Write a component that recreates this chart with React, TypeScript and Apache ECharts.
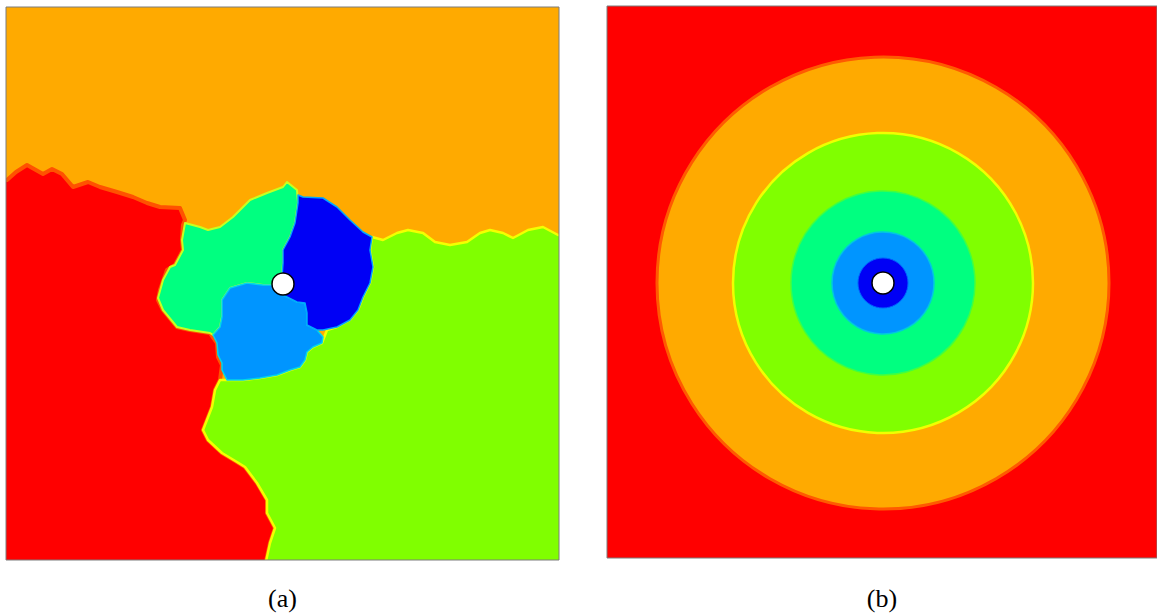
import React, { useEffect, useRef } from "react";
import * as echarts from "echarts";

// ---------- Panel (a): region boundaries (image units) ----------
const PANEL_A_X = [6, 559];
const PANEL_A_Y = [7, 560];
const PANEL_B_X = [607, 1157];
const PANEL_B_Y = [6, 558];

const regionOrange = [[6, 7], [559, 7], [559, 560], [6, 560]];
const regionRed = [
  [0, 180], [7, 180], [16, 172], [27, 165], [43, 174], [52, 169], [62, 174], [73, 187], [88, 182],
  [100, 187], [117, 192], [133, 197], [147, 203], [160, 207], [180, 208], [185, 220],
  [183, 225], [182, 240], [183, 250], [175, 265], [167, 270], [160, 290], [158, 300],
  [163, 310], [177, 327], [190, 330], [210, 333], [217, 343], [218, 357], [222, 365],
  [220, 380], [215, 390], [212, 407], [203, 430], [208, 440], [222, 453], [237, 462],
  [245, 467], [257, 483], [267, 500], [267, 513], [275, 528], [270, 543], [265, 566], [0, 566],
];
const regionLime = [
  [372, 237], [383, 240], [397, 233], [408, 230], [423, 233], [435, 242], [450, 245],
  [467, 242], [480, 233], [490, 230], [503, 233], [513, 238], [528, 230], [543, 227],
  [558, 235], [566, 235], [566, 566], [265, 566], [270, 543], [275, 528], [267, 513],
  [267, 500], [257, 483], [245, 467], [237, 462], [222, 453], [208, 440], [203, 430],
  [212, 407], [215, 390], [220, 380], [227, 380], [243, 380], [260, 378], [277, 375],
  [290, 370], [300, 367], [305, 360], [307, 352], [313, 347], [322, 343], [327, 330],
  [337, 327], [350, 320], [358, 310], [363, 297], [370, 283], [373, 267], [370, 250],
];
const regionSpring = [
  [158, 298], [163, 280], [170, 267], [175, 265], [183, 250], [182, 240], [185, 223],
  [200, 227], [208, 230], [220, 227], [233, 217], [250, 200], [267, 193], [283, 187],
  [287, 182], [297, 190], [298, 203], [295, 223], [290, 237], [283, 250], [283, 263],
  [282, 277], [273, 285], [263, 285], [247, 283], [230, 288], [222, 300], [222, 317],
  [220, 327], [213, 335], [210, 333], [190, 330], [177, 327], [163, 310],
];
const regionAzure = [
  [222, 300], [230, 288], [247, 283], [263, 285], [273, 285], [283, 295], [297, 302],
  [305, 303], [307, 313], [307, 325], [317, 330], [323, 337], [322, 343], [313, 347],
  [307, 352], [305, 360], [300, 367], [290, 370], [277, 375], [260, 378], [243, 380],
  [227, 380], [222, 370], [222, 363], [218, 355], [217, 343], [213, 335], [220, 327], [222, 317],
];
const regionBlue = [
  [298, 195], [303, 197], [323, 198], [337, 207], [350, 220], [363, 232], [372, 237],
  [370, 250], [373, 267], [370, 283], [363, 297], [358, 310], [350, 320], [337, 327],
  [323, 330], [317, 330], [307, 325], [307, 313], [305, 303], [297, 302], [283, 295],
  [282, 277], [283, 263], [283, 250], [290, 237], [295, 223], [298, 203],
];
const REGIONS_A = [regionOrange, regionRed, regionLime, regionSpring, regionAzure, regionBlue];
const SOURCE_A = [[283, 284]];

// ---------- Panel (b): concentric rings ----------
const CENTER_B = [883, 283];
const RING_RADII = [400, 226, 150, 92, 51, 25];
const SOURCE_B = [[883, 283]];

const LABELS = ["(a)", "(b)"];

// ---------- styles ----------
const REGION_STYLE_A = [
  { fill: "#FFAA00", stroke: "none", lw: 0 },
  { fill: "#FF0000", stroke: "#FF5200", lw: 4 },
  { fill: "#80FF00", stroke: "#F4FF00", lw: 2.5 },
  { fill: "#00FF80", stroke: "#C8FF20", lw: 2 },
  { fill: "#0095FF", stroke: "#00D8E8", lw: 1.5 },
  { fill: "#0000F5", stroke: "#00A8FF", lw: 1.5 },
];
const RING_STYLE_B = [
  { fill: "#FF0000", stroke: "none", lw: 0 },
  { fill: "#FFAA00", stroke: "#FF5A00", lw: 3 },
  { fill: "#80FF00", stroke: "#F0FF00", lw: 2.5 },
  { fill: "#00FF80", stroke: "#40FF40", lw: 1.5 },
  { fill: "#0095FF", stroke: "#00C8E0", lw: 1.5 },
  { fill: "#0000F5", stroke: "#0060FF", lw: 1 },
];

export default function App() {
  const ref = useRef<HTMLDivElement>(null);
  useEffect(() => {
    if (!ref.current) return;
    const chart = echarts.init(ref.current, null, { renderer: "svg" });
    const hiddenAxis = (min: number, max: number, idx: number, inverse = false) => ({
      type: "value",
      min,
      max,
      gridIndex: idx,
      inverse,
      show: false,
    });
    chart.setOption({
      animation: false,
      backgroundColor: "#ffffff",
      grid: [
        {
          left: PANEL_A_X[0], top: PANEL_A_Y[0],
          width: PANEL_A_X[1] - PANEL_A_X[0], height: PANEL_A_Y[1] - PANEL_A_Y[0],
          show: false,
        },
        {
          left: PANEL_B_X[0], top: PANEL_B_Y[0],
          width: PANEL_B_X[1] - PANEL_B_X[0], height: PANEL_B_Y[1] - PANEL_B_Y[0],
          show: false,
        },
      ],
      xAxis: [hiddenAxis(PANEL_A_X[0], PANEL_A_X[1], 0), hiddenAxis(PANEL_B_X[0], PANEL_B_X[1], 1)],
      yAxis: [
        hiddenAxis(PANEL_A_Y[0], PANEL_A_Y[1], 0, true),
        hiddenAxis(PANEL_B_Y[0], PANEL_B_Y[1], 1, true),
      ],
      series: [
        {
          type: "custom",
          xAxisIndex: 0,
          yAxisIndex: 0,
          clip: true,
          silent: true,
          data: REGIONS_A.map((r, i) => [r[0][0], r[0][1], i]),
          renderItem: (params: any, api: any) => {
            const i = params.dataIndex;
            const st = REGION_STYLE_A[i];
            const pts = REGIONS_A[i].map((p) => api.coord(p));
            return {
              type: "polygon",
              shape: { points: pts },
              style: { fill: st.fill, stroke: st.stroke, lineWidth: st.lw, lineJoin: "round" },
            };
          },
        },
        {
          type: "custom",
          xAxisIndex: 1,
          yAxisIndex: 1,
          clip: true,
          silent: true,
          data: RING_RADII.map((r, i) => [CENTER_B[0], CENTER_B[1], r, i]),
          renderItem: (params: any, api: any) => {
            const i = params.dataIndex;
            const st = RING_STYLE_B[i];
            const c = api.coord([api.value(0), api.value(1)]);
            const rr = api.size([api.value(2), 0])[0];
            return {
              type: "circle",
              shape: { cx: c[0], cy: c[1], r: rr },
              style: { fill: st.fill, stroke: st.stroke, lineWidth: st.lw },
            };
          },
        },
        {
          type: "scatter",
          xAxisIndex: 0,
          yAxisIndex: 0,
          data: SOURCE_A,
          symbolSize: 22,
          itemStyle: { color: "#ffffff", borderColor: "#000000", borderWidth: 1.5, opacity: 1 },
          silent: true,
          z: 5,
        },
        {
          type: "scatter",
          xAxisIndex: 1,
          yAxisIndex: 1,
          data: SOURCE_B,
          symbolSize: 22,
          itemStyle: { color: "#ffffff", borderColor: "#000000", borderWidth: 1.5, opacity: 1 },
          silent: true,
          z: 5,
        },
      ],
      graphic: [
        {
          type: "rect",
          shape: { x: PANEL_A_X[0], y: PANEL_A_Y[0], width: PANEL_A_X[1] - PANEL_A_X[0], height: PANEL_A_Y[1] - PANEL_A_Y[0] },
          style: { fill: "none", stroke: "#7c7c7c", lineWidth: 1 },
          z: 100,
          silent: true,
        },
        {
          type: "rect",
          shape: { x: PANEL_B_X[0], y: PANEL_B_Y[0], width: PANEL_B_X[1] - PANEL_B_X[0], height: PANEL_B_Y[1] - PANEL_B_Y[0] },
          style: { fill: "none", stroke: "#7c7c7c", lineWidth: 1 },
          z: 100,
          silent: true,
        },
        {
          type: "text",
          x: (PANEL_A_X[0] + PANEL_A_X[1]) / 2,
          y: 598,
          style: {
            text: LABELS[0],
            fill: "#000",
            font: "26px 'Liberation Serif', serif",
            textAlign: "center",
            textVerticalAlign: "middle",
          },
        },
        {
          type: "text",
          x: (PANEL_B_X[0] + PANEL_B_X[1]) / 2,
          y: 598,
          style: {
            text: LABELS[1],
            fill: "#000",
            font: "26px 'Liberation Serif', serif",
            textAlign: "center",
            textVerticalAlign: "middle",
          },
        },
      ],
    });
    return () => chart.dispose();
  }, []);
  return (
    <div
      ref={ref}
      style={{ position: "fixed", left: 0, top: 0, width: 1157, height: 614 }}
    />
  );
}
